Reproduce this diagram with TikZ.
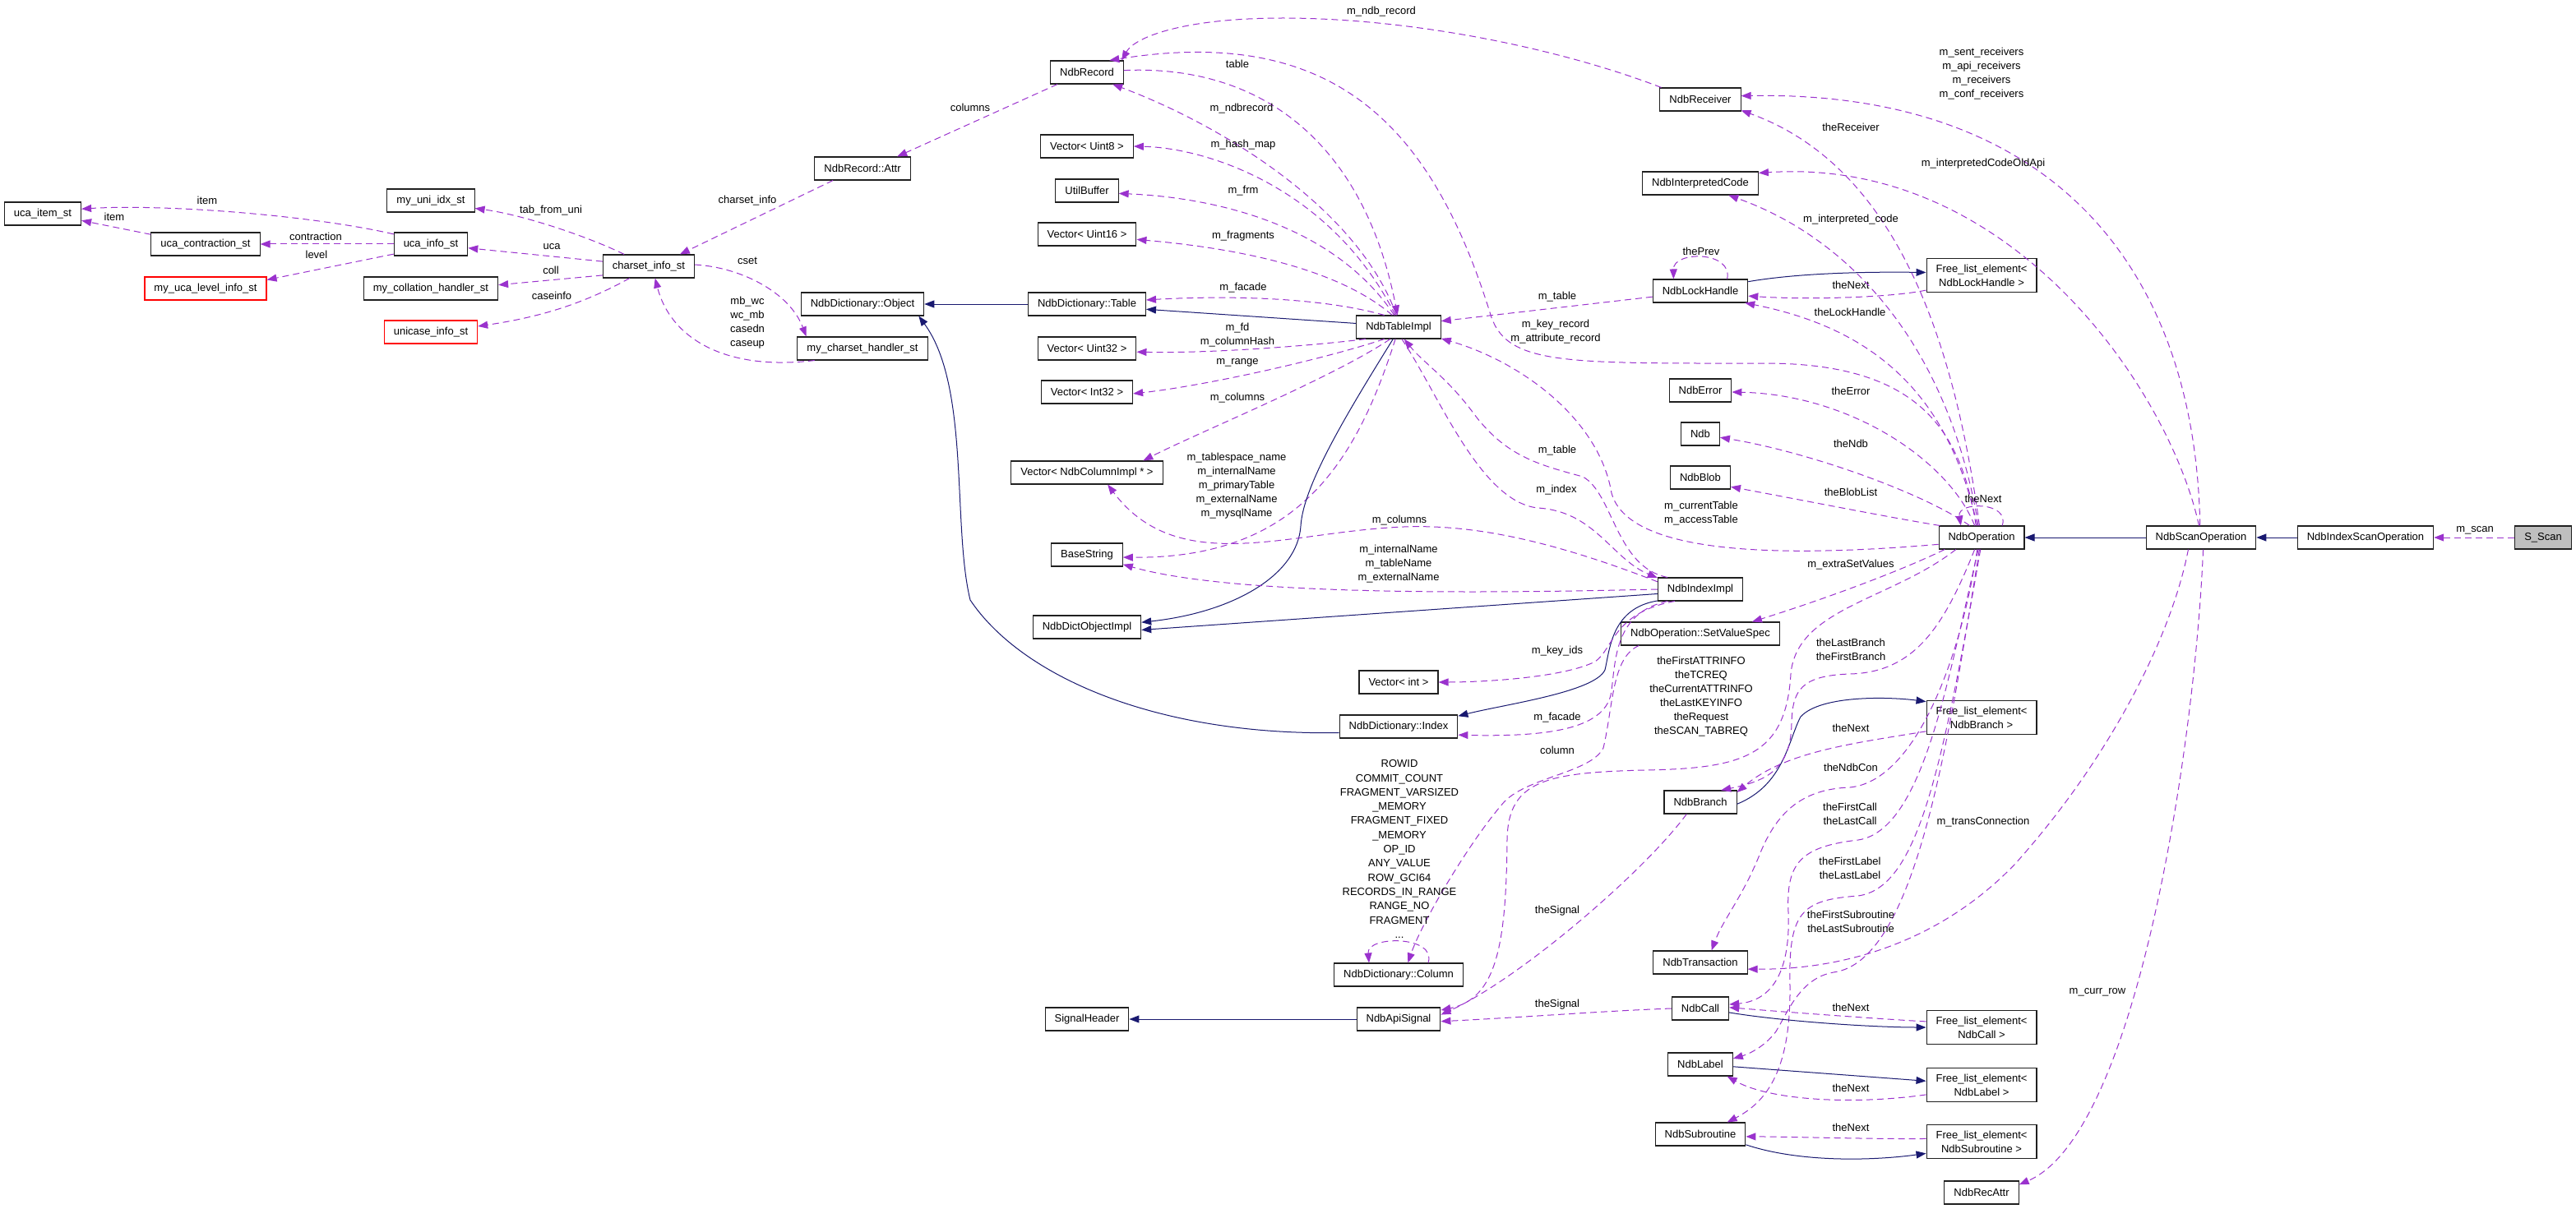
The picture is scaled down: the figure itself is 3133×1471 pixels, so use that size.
\documentclass[tikz,border=0pt]{standalone}
\usepackage{fontspec}
\setmainfont{Liberation Sans}
\usetikzlibrary{arrows.meta}
\definecolor{edgepurple}{HTML}{9A32CD}
\definecolor{edgeblue}{HTML}{191970}
\definecolor{rootgray}{HTML}{BFBFBF}
\definecolor{boxline}{HTML}{202020}
\begin{document}
\begin{tikzpicture}[x=1pt,y=-1pt,
  font=\fontsize{13}{17}\selectfont,
  cls/.style={draw=boxline, line width=1.05pt, fill=white, inner xsep=11.5pt, inner ysep=7pt, minimum height=28pt, align=center},
  redcls/.style={cls, draw=red},
  rootcls/.style={cls, fill=rootgray},
  lbl/.style={inner sep=0pt, align=center},
  useedge/.style={draw=edgepurple, line width=1pt, dash pattern=on 8pt off 5pt, -{Triangle[length=12pt,width=9pt]}},
  inhedge/.style={draw=edgeblue, line width=1pt, -{Triangle[length=12pt,width=9pt]}},
]
\useasboundingbox (0,0) rectangle (3133,1471);

% ---------------- nodes ----------------
\node[cls] (ucaitem) at (52,260) {uca\_item\_st};
\node[cls] (ucacontr) at (250,297) {uca\_contraction\_st};
\node[cls] (ucainfo) at (524,297) {uca\_info\_st};
\node[redcls] (ucalevel) at (250,351) {my\_uca\_level\_info\_st};
\node[cls] (uniidx) at (524,244) {my\_uni\_idx\_st};
\node[cls] (collation) at (524,351) {my\_collation\_handler\_st};
\node[redcls] (unicase) at (524,404) {unicase\_info\_st};
\node[cls] (charset) at (789,324) {charset\_info\_st};
\node[cls] (recattr) at (1049,205) {NdbRecord::Attr};
\node[cls] (dictobj) at (1049,370) {NdbDictionary::Object};
\node[cls] (chandler) at (1049,424) {my\_charset\_handler\_st};
\node[cls] (record) at (1322,88) {NdbRecord};
\node[cls] (vuint8) at (1322,178) {Vector< Uint8 >};
\node[cls] (utilbuf) at (1322,232) {UtilBuffer};
\node[cls] (vuint16) at (1322,285) {Vector< Uint16 >};
\node[cls] (dicttable) at (1322,370) {NdbDictionary::Table};
\node[cls] (vuint32) at (1322,424) {Vector< Uint32 >};
\node[cls] (vint32) at (1322,477) {Vector< Int32 >};
\node[cls] (vcolimpl) at (1322,575) {Vector< NdbColumnImpl * >};
\node[cls] (basestring) at (1322,675) {BaseString};
\node[cls] (dictobjimpl) at (1322,763) {NdbDictObjectImpl};
\node[cls] (signalheader) at (1322,1240) {SignalHeader};
\node[cls] (tableimpl) at (1701,398) {NdbTableImpl};
\node[cls] (vint) at (1701,830) {Vector< int >};
\node[cls] (dictindex) at (1701,884) {NdbDictionary::Index};
\node[cls] (dictcolumn) at (1701,1186) {NdbDictionary::Column};
\node[cls] (apisignal) at (1701,1240) {NdbApiSignal};
\node[cls] (receiver) at (2068,121) {NdbReceiver};
\node[cls] (interp) at (2068,223) {NdbInterpretedCode};
\node[cls] (lockhandle) at (2068,354) {NdbLockHandle};
\node[cls] (ndberror) at (2068,475) {NdbError};
\node[cls] (ndb) at (2068,528) {Ndb};
\node[cls] (blob) at (2068,581) {NdbBlob};
\node[cls] (indeximpl) at (2068,717) {NdbIndexImpl};
\node[cls] (setvalue) at (2068,771) {NdbOperation::SetValueSpec};
\node[cls] (branch) at (2068,976) {NdbBranch};
\node[cls] (transaction) at (2068,1171) {NdbTransaction};
\node[cls] (call) at (2068,1227) {NdbCall};
\node[cls] (ndblabel) at (2068,1295) {NdbLabel};
\node[cls] (subroutine) at (2068,1380) {NdbSubroutine};
\node[cls] (fllock) at (2410,335) {Free\_list\_element<\\NdbLockHandle >};
\node[cls] (operation) at (2410,654) {NdbOperation};
\node[cls] (flbranch) at (2410,873) {Free\_list\_element<\\NdbBranch >};
\node[cls] (flcall) at (2410,1250) {Free\_list\_element<\\NdbCall >};
\node[cls] (fllabel) at (2410,1320) {Free\_list\_element<\\NdbLabel >};
\node[cls] (flsub) at (2410,1389) {Free\_list\_element<\\NdbSubroutine >};
\node[cls] (nrecattr) at (2410,1451) {NdbRecAttr};
\node[cls] (scanop) at (2677,654) {NdbScanOperation};
\node[cls] (idxscan) at (2877,654) {NdbIndexScanOperation};
\node[rootcls] (sscan) at (3093,654) {S\_Scan};

% ---------------- left cluster ----------------
\draw[useedge] (ucainfo.165) .. controls (380,262) and (200,248) .. (ucaitem.7);
\node[lbl] (l01) at (252,244) {item};
\draw[useedge] (ucacontr.170) -- (ucaitem.-10);
\node[lbl] (l02) at (139,264) {item};
\draw[useedge] (ucainfo.west) -- (ucacontr.east);
\node[lbl] (l03) at (384,288) {contraction};
\draw[useedge] (ucainfo.195) -- (ucalevel.8);
\node[lbl] (l04) at (385,310) {level};
\draw[useedge] (charset.154) .. controls (720,290) and (640,262) .. (uniidx.-10);
\node[lbl] (l05) at (670,256) {tab\_from\_uni};
\draw[useedge] (charset.174) -- (ucainfo.-6);
\node[lbl] (l06) at (671,300) {uca};
\draw[useedge] (charset.191) -- (collation.3);
\node[lbl] (l07) at (670,329) {coll};
\draw[useedge] (charset.212) .. controls (714,367) and (663,385) .. (unicase.7);
\node[lbl] (l08) at (671,360) {caseinfo};
\draw[useedge] (recattr.202) -- (charset.21);
\node[lbl] (l09) at (909,244) {charset\_info};
\draw[useedge] (chandler.194) .. controls (880,452) and (815,410) .. (charset.-62);
\node[lbl] (l10) at (909,393) {mb\_wc\\wc\_mb\\casedn\\caseup};
\draw[useedge] (charset.2) .. controls (900,325) and (960,355) .. (chandler.168);
\node[lbl] (l11) at (909,317) {cset};
\draw[useedge] (record.202) -- (recattr.19);
\node[lbl] (l12) at (1180,131) {columns};
\draw[inhedge] (dicttable.west) -- (dictobj.east);

% ---------------- NdbTableImpl fan ----------------
\draw[useedge] (record.3) .. controls (1540,78) and (1660,180) .. (tableimpl.95);
\node[lbl] (l13) at (1505,78) {table};
\draw[useedge] (tableimpl.100) .. controls (1650,250) and (1480,150) .. (record.-25);
\node[lbl] (l14) at (1510,132) {m\_ndbrecord};
\draw[useedge] (tableimpl.105) .. controls (1620,230) and (1470,180) .. (vuint8.east);
\node[lbl] (l15) at (1512,176) {m\_hash\_map};
\draw[useedge] (tableimpl.110) .. controls (1620,270) and (1470,240) .. (utilbuf.-5);
\node[lbl] (l16) at (1512,232) {m\_frm};
\draw[useedge] (tableimpl.118) .. controls (1620,320) and (1480,300) .. (vuint16.-6);
\node[lbl] (l17) at (1512,287) {m\_fragments};
\draw[useedge] (tableimpl.140) .. controls (1600,360) and (1480,360) .. (dicttable.4);
\node[lbl] (l18) at (1512,350) {m\_facade};
\draw[inhedge] (tableimpl.175) -- (dicttable.-5);
\draw[useedge] (tableimpl.200) .. controls (1600,420) and (1480,430) .. (vuint32.-4);
\node[lbl] (l19) at (1505,408) {m\_fd\\m\_columnHash};
\draw[useedge] (tableimpl.220) .. controls (1600,440) and (1460,470) .. (vint32.-2);
\node[lbl] (l20) at (1505,441) {m\_range};
\draw[useedge] (tableimpl.235) .. controls (1620,460) and (1460,525) .. (vcolimpl.12);
\node[lbl] (l21) at (1505,484) {m\_columns};
\draw[useedge] (tableimpl.255) .. controls (1650,560) and (1580,680) .. (basestring.-4);
\node[lbl] (l22) at (1504,591) {m\_tablespace\_name\\m\_internalName\\m\_primaryTable\\m\_externalName\\m\_mysqlName};
\draw[inhedge] (tableimpl.245) .. controls (1640,500) and (1585,590) .. (1582,640) .. controls (1578,700) and (1500,745) .. (dictobjimpl.5);

% ---------------- NdbIndexImpl ----------------
\draw[useedge] (indeximpl.170) .. controls (1880,655) and (1780,635) .. (1690,642) .. controls (1560,650) and (1430,700) .. (vcolimpl.-30);
\node[lbl] (l23) at (1702,633) {m\_columns};
\draw[useedge] (indeximpl.180) .. controls (1800,722) and (1500,725) .. (basestring.-15);
\node[lbl] (l24) at (1701,686) {m\_internalName\\m\_tableName\\m\_externalName};
\draw[inhedge] (indeximpl.186) -- (dictobjimpl.-3);
\draw[inhedge] (indeximpl.195) .. controls (1960,740) and (1958,790) .. (1952,815) .. controls (1940,842) and (1830,857) .. (dictindex.10);
\draw[inhedge] (dictindex.186) .. controls (1400,895) and (1240,820) .. (1180,730) .. controls (1158,640) and (1180,470) .. (dictobj.-12);
\draw[useedge] (indeximpl.160) .. controls (1965,690) and (1962,600) .. (1925,580) .. controls (1870,565) and (1830,555) .. (1790,500) .. controls (1760,460) and (1730,440) .. (tableimpl.-65);
\node[lbl] (l25) at (1894,548) {m\_table};
\draw[useedge] (tableimpl.-75) .. controls (1750,480) and (1800,610) .. (1870,618) .. controls (1940,622) and (1960,680) .. (indeximpl.165);
\node[lbl] (l26) at (1893,596) {m\_index};
\draw[useedge] (indeximpl.200) .. controls (1965,745) and (1965,800) .. (1960,840) .. controls (1955,885) and (1890,897) .. (dictindex.-8);
\node[lbl] (l27) at (1894,873) {m\_facade};
\draw[useedge] (indeximpl.205) .. controls (1962,745) and (1962,790) .. (1940,805) .. controls (1900,825) and (1800,830) .. (vint.east);
\node[lbl] (l28) at (1894,792) {m\_key\_ids};

% ---------------- NdbLockHandle ----------------
\draw[useedge] (lockhandle.187) -- (tableimpl.8);
\node[lbl] (l29) at (1894,361) {m\_table};
\draw[inhedge] (lockhandle.11) .. controls (2200,330) and (2300,331) .. (fllock.177);
\draw[useedge] (fllock.195) .. controls (2300,362) and (2200,365) .. (lockhandle.-6);
\node[lbl] (l30) at (2251,347) {theNext};
\draw[useedge] (lockhandle.24) .. controls (2108,305) and (2035,305) .. (lockhandle.156);
\node[lbl] (l31) at (2069,306) {thePrev};

% ---------------- NdbRecord from above ----------------
\draw[useedge] (operation.115) .. controls (2385,520) and (2330,443) .. (2150,442) .. controls (1900,442) and (1830,445) .. (1812,380) .. controls (1740,150) and (1620,30) .. (record.28);
\node[lbl] (l32) at (1892,404) {m\_key\_record\\m\_attribute\_record};
\draw[useedge] (receiver.163) .. controls (1900,60) and (1720,22) .. (1560,22) .. controls (1440,22) and (1380,45) .. (record.19);
\node[lbl] (l33) at (1680,14) {m\_ndb\_record};

% ---------------- NdbOperation ----------------
\draw[useedge] (operation.100) .. controls (2375,400) and (2300,200) .. (receiver.-15);
\node[lbl] (l34) at (2251,155) {theReceiver};
\draw[useedge] (scanop.95) .. controls (2670,330) and (2500,110) .. (receiver.5);
\node[lbl] (l35) at (2410,90) {m\_sent\_receivers\\m\_api\_receivers\\m\_receivers\\m\_conf\_receivers};
\draw[useedge] (scanop.100) .. controls (2640,480) and (2450,190) .. (interp.10);
\node[lbl] (l36) at (2412,199) {m\_interpretedCodeOldApi};
\draw[useedge] (operation.105) .. controls (2370,420) and (2250,290) .. (interp.-23);
\node[lbl] (l37) at (2251,267) {m\_interpreted\_code};
\draw[useedge] (operation.110) .. controls (2370,480) and (2280,400) .. (lockhandle.-15);
\node[lbl] (l38) at (2250,380) {theLockHandle};
\draw[useedge] (operation.120) .. controls (2370,560) and (2250,480) .. (ndberror.-3);
\node[lbl] (l39) at (2251,476) {theError};
\draw[useedge] (operation.135) .. controls (2340,600) and (2200,550) .. (ndb.-10);
\node[lbl] (l40) at (2251,540) {theNdb};
\draw[useedge] (operation.164) .. controls (2300,630) and (2200,610) .. (blob.-17);
\node[lbl] (l41) at (2251,599) {theBlobList};
\draw[useedge] (operation.30) .. controls (2445,610) and (2380,610) .. (operation.150);
\node[lbl] (l42) at (2412,607) {theNext};
\draw[useedge] (operation.189) .. controls (2150,680) and (1980,672) .. (1960,600) .. controls (1945,510) and (1850,440) .. (tableimpl.-15);
\node[lbl] (l43) at (2069,625) {m\_currentTable\\m\_accessTable};
\draw[useedge] (operation.198) .. controls (2300,700) and (2200,735) .. (setvalue.13);
\node[lbl] (l44) at (2251,687) {m\_extraSetValues};
\draw[useedge] (operation.205) .. controls (2300,730) and (2185,740) .. (2178,820) .. controls (2172,920) and (2120,935) .. (2000,937) .. controls (1880,940) and (1835,950) .. (1833,1020) .. controls (1832,1150) and (1820,1215) .. (apisignal.12);
\node[lbl] (l45) at (2069,848) {theFirstATTRINFO\\theTCREQ\\theCurrentATTRINFO\\theLastKEYINFO\\theRequest\\theSCAN\_TABREQ};
\draw[useedge] (setvalue.191) .. controls (1960,800) and (1962,860) .. (1950,910) .. controls (1935,940) and (1860,945) .. (1830,975) .. controls (1790,1020) and (1730,1120) .. (dictcolumn.52);
\node[lbl] (l46) at (1894,913) {column};
\draw[useedge] (dictcolumn.22) .. controls (1748,1138) and (1662,1138) .. (dictcolumn.158);
\node[lbl, font=\fontsize{13}{17.3}\selectfont] (l47) at (1702,1033) {ROWID\\COMMIT\_COUNT\\FRAGMENT\_VARSIZED\\\_MEMORY\\FRAGMENT\_FIXED\\\_MEMORY\\OP\_ID\\ANY\_VALUE\\ROW\_GCI64\\RECORDS\_IN\_RANGE\\RANGE\_NO\\FRAGMENT\\...};
\draw[useedge] (branch.221) .. controls (2000,1060) and (1850,1190) .. (apisignal.6);
\node[lbl] (l48) at (1894,1108) {theSignal};
\draw[useedge] (call.west) .. controls (1950,1230) and (1850,1238) .. (apisignal.-3);
\node[lbl] (l49) at (1894,1222) {theSignal};

% ---------------- Branch / Call / Label / Subroutine ----------------
\draw[useedge] (flbranch.194) .. controls (2250,905) and (2170,915) .. (branch.15);
\node[lbl] (l50) at (2251,886) {theNext};
\draw[inhedge] (branch.-3) .. controls (2170,955) and (2175,900) .. (2190,872) .. controls (2215,845) and (2300,848) .. (flbranch.164);
\draw[useedge] (operation.240) .. controls (2365,760) and (2330,818) .. (2250,820) .. controls (2190,822) and (2180,840) .. (2179,880) .. controls (2178,935) and (2150,950) .. (branch.30);
\node[lbl] (l51) at (2251,790) {theLastBranch\\theFirstBranch};
\draw[useedge] (operation.250) .. controls (2385,800) and (2330,950) .. (2250,958) .. controls (2190,960) and (2160,990) .. (2140,1040) .. controls (2120,1090) and (2095,1120) .. (transaction.47);
\node[lbl] (l52) at (2251,934) {theNdbCon};
\draw[useedge] (operation.255) .. controls (2370,820) and (2340,1010) .. (2260,1022) .. controls (2190,1030) and (2172,1050) .. (2175,1110) .. controls (2178,1190) and (2150,1218) .. (call.8);
\node[lbl] (l53) at (2250,990) {theFirstCall\\theLastCall};
\draw[useedge] (operation.260) .. controls (2370,900) and (2330,1170) .. (2230,1183) .. controls (2190,1190) and (2175,1230) .. (2160,1255) .. controls (2145,1275) and (2125,1283) .. (ndblabel.10);
\node[lbl] (l54) at (2250,1056) {theFirstLabel\\theLastLabel};
\draw[useedge] (operation.265) .. controls (2360,950) and (2330,1080) .. (2260,1090) .. controls (2190,1095) and (2175,1110) .. (2177,1200) .. controls (2178,1300) and (2150,1340) .. (subroutine.24);
\node[lbl] (l55) at (2251,1121) {theFirstSubroutine\\theLastSubroutine};
\draw[useedge] (scanop.223) .. controls (2640,780) and (2560,930) .. (2450,1052) .. controls (2370,1135) and (2260,1180) .. (transaction.-8);
\node[lbl] (l56) at (2412,1000) {m\_transConnection};
\draw[inhedge] (call.-8) .. controls (2170,1243) and (2280,1250) .. (flcall.180);
\draw[useedge] (flcall.174) .. controls (2290,1240) and (2180,1232) .. (call.2);
\node[lbl] (l57) at (2251,1226) {theNext};
\draw[inhedge] (ndblabel.-4) -- (fllabel.176);
\draw[useedge] (fllabel.190) .. controls (2250,1345) and (2150,1338) .. (ndblabel.-24);
\node[lbl] (l58) at (2251,1324) {theNext};
\draw[inhedge] (subroutine.-13) .. controls (2190,1415) and (2280,1412) .. (flsub.192);
\draw[useedge] (flsub.177) .. controls (2270,1386) and (2180,1383) .. (subroutine.-3);
\node[lbl] (l59) at (2251,1372) {theNext};
\draw[useedge] (scanop.-80) .. controls (2670,900) and (2600,1380) .. (nrecattr.12);
\node[lbl] (l60) at (2551,1207) {m\_curr\_row};

% ---------------- right chain ----------------
\draw[inhedge] (apisignal.west) -- (signalheader.east);
\draw[inhedge] (scanop.west) -- (operation.east);
\draw[inhedge] (idxscan.west) -- (scanop.east);
\draw[useedge] (sscan.west) -- (idxscan.east);
\node[lbl] (l61) at (3010,645) {m\_scan};
\end{tikzpicture}
\end{document}
